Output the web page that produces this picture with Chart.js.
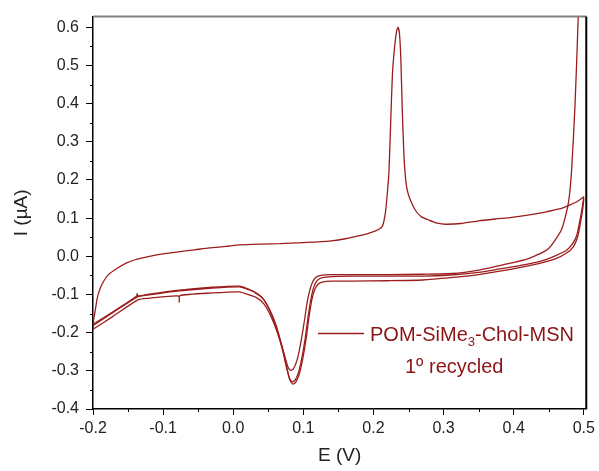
<!DOCTYPE html>
<html>
<head>
<meta charset="utf-8">
<script src="https://cdn.jsdelivr.net/npm/chart.js@4.4.1/dist/chart.umd.min.js"></script>
<style>
  body { margin: 0; background: #fff; }
  #wrap { width: 599px; height: 471px; }
</style>
</head>
<body>
<div id="wrap"><canvas id="cv" width="599" height="471"></canvas></div>
<script>
// axis ticks
const xTicks = [-0.2, -0.1, 0.0, 0.1, 0.2, 0.3, 0.4, 0.5]
const yTicks = [-0.4, -0.3, -0.2, -0.1, 0.0, 0.1, 0.2, 0.3, 0.4, 0.5, 0.6]

// anodic sweep (upper branch), E in V, I in uA
const upE = [-0.200, -0.199, -0.197, -0.194, -0.190, -0.185, -0.178, -0.166, -0.152, -0.140, -0.129, -0.105, -0.081, -0.055, -0.034, -0.010, 0.009, 0.040, 0.066, 0.100, 0.137, 0.160, 0.180, 0.196, 0.208, 0.213, 0.217, 0.2195, 0.222, 0.2245, 0.227, 0.230, 0.233, 0.235, 0.237, 0.239, 0.241, 0.2435, 0.246, 0.248, 0.252, 0.260, 0.268, 0.279, 0.291, 0.303, 0.325, 0.350, 0.375, 0.397, 0.420, 0.445, 0.465, 0.478, 0.490, 0.500]
const upI = [-0.192, -0.165, -0.144, -0.110, -0.085, -0.066, -0.048, -0.032, -0.017, -0.009, -0.004, 0.005, 0.011, 0.017, 0.022, 0.026, 0.030, 0.032, 0.033, 0.036, 0.040, 0.046, 0.054, 0.062, 0.071, 0.080, 0.114, 0.160, 0.218, 0.347, 0.476, 0.545, 0.590, 0.600, 0.585, 0.519, 0.390, 0.261, 0.200, 0.175, 0.150, 0.120, 0.104, 0.095, 0.087, 0.084, 0.086, 0.093, 0.098, 0.102, 0.108, 0.116, 0.124, 0.133, 0.143, 0.156]

// cathodic sweeps, right to left
const c1E = [0.494, 0.492, 0.491, 0.4875, 0.4826, 0.478, 0.4684, 0.4495, 0.421, 0.383, 0.350, 0.312, 0.270, 0.220, 0.170, 0.140, 0.125, 0.118, 0.113, 0.109, 0.105, 0.101, 0.096, 0.091, 0.086, 0.082, 0.078, 0.074, 0.068, 0.061, 0.052, 0.042, 0.030, 0.018, 0.009, -0.030, -0.080, -0.120, -0.136, -0.137, -0.138, -0.172, -0.200]
const c1I = [0.700, 0.628, 0.572, 0.399, 0.226, 0.140, 0.071, 0.020, -0.006, -0.023, -0.036, -0.045, -0.047, -0.048, -0.048, -0.048, -0.050, -0.055, -0.068, -0.090, -0.125, -0.175, -0.230, -0.272, -0.294, -0.299, -0.290, -0.265, -0.225, -0.180, -0.140, -0.110, -0.093, -0.083, -0.078, -0.081, -0.089, -0.099, -0.104, -0.098, -0.105, -0.146, -0.178]

const c2E = [0.500, 0.497, 0.494, 0.490, 0.484, 0.475, 0.460, 0.440, 0.410, 0.380, 0.350, 0.310, 0.270, 0.220, 0.170, 0.140, 0.127, 0.120, 0.115, 0.111, 0.107, 0.103, 0.098, 0.093, 0.088, 0.084, 0.080, 0.076, 0.070, 0.062, 0.053, 0.043, 0.031, 0.018, 0.009, -0.030, -0.080, -0.120, -0.136, -0.172, -0.200]
const c2I = [0.156, 0.120, 0.090, 0.055, 0.033, 0.015, 0.002, -0.012, -0.024, -0.033, -0.042, -0.049, -0.052, -0.052, -0.052, -0.053, -0.056, -0.063, -0.080, -0.110, -0.155, -0.210, -0.265, -0.305, -0.325, -0.329, -0.318, -0.290, -0.240, -0.190, -0.145, -0.112, -0.095, -0.085, -0.080, -0.083, -0.091, -0.101, -0.106, -0.148, -0.182]

const c3E = [0.500, 0.498, 0.495, 0.491, 0.485, 0.475, 0.460, 0.440, 0.410, 0.380, 0.350, 0.310, 0.270, 0.220, 0.170, 0.140, 0.128, 0.121, 0.116, 0.112, 0.108, 0.104, 0.099, 0.094, 0.089, 0.085, 0.081, 0.077, 0.071, 0.063, 0.054, 0.044, 0.032, 0.018, 0.009, -0.030, -0.076, -0.077, -0.078, -0.120, -0.136, -0.172, -0.200]
const c3I = [0.150, 0.118, 0.085, 0.050, 0.025, 0.008, -0.006, -0.017, -0.029, -0.039, -0.048, -0.056, -0.062, -0.064, -0.065, -0.065, -0.067, -0.073, -0.088, -0.115, -0.160, -0.215, -0.270, -0.310, -0.330, -0.335, -0.325, -0.298, -0.250, -0.200, -0.158, -0.125, -0.107, -0.098, -0.093, -0.096, -0.103, -0.120, -0.104, -0.110, -0.114, -0.158, -0.191]

const lineColor = '#9b1c1c'
const textColor = '#8b1515'
const fontName = "'Liberation Sans', Arial, sans-serif"

function toPoints(es, is) {
    return es.map((e, i) => ({ x: e, y: is[i] }))
}

function sweep(es, is) {
    return {
        data: toPoints(es, is),
        showLine: true,
        borderColor: lineColor,
        borderWidth: 1.3,
        pointRadius: 0,
        tension: 0.2
    }
}

// top/right frame, minor ticks and the legend block
const framePlugin = {
    id: 'frame',
    afterDraw(chart) {
        const ctx = chart.ctx
        const a = chart.chartArea
        const xs = chart.scales.x
        const ys = chart.scales.y
        ctx.save()
        ctx.strokeStyle = '#808080'
        ctx.lineWidth = 2
        ctx.beginPath()
        ctx.moveTo(a.left, a.top)
        ctx.lineTo(a.right, a.top)
        ctx.stroke()
        ctx.strokeStyle = '#000'
        ctx.beginPath()
        ctx.moveTo(a.right, a.top)
        ctx.lineTo(a.right, a.bottom)
        ctx.stroke()

        ctx.lineWidth = 1
        ctx.beginPath()
        for (let i = 0; i < xTicks.length - 1; i++) {
            const px = Math.round(xs.getPixelForValue((xTicks[i] + xTicks[i + 1]) / 2)) + 0.5
            ctx.moveTo(px, a.bottom)
            ctx.lineTo(px, a.bottom + 3)
        }
        for (let i = 0; i < yTicks.length; i++) {
            const v = yTicks[i] + 0.05
            if (v > ys.max) continue
            const py = Math.round(ys.getPixelForValue(v)) + 0.5
            ctx.moveTo(a.left, py)
            ctx.lineTo(a.left - 3, py)
        }
        ctx.stroke()

        // legend
        ctx.strokeStyle = lineColor
        ctx.lineWidth = 1.3
        ctx.beginPath()
        ctx.moveTo(318, 333.5)
        ctx.lineTo(364, 333.5)
        ctx.stroke()
        ctx.fillStyle = textColor
        ctx.textBaseline = 'alphabetic'
        ctx.textAlign = 'left'
        let x = 370
        ctx.font = '20px ' + fontName
        ctx.fillText('POM-SiMe', x, 340.5)
        x += ctx.measureText('POM-SiMe').width
        ctx.font = '13px ' + fontName
        ctx.fillText('3', x, 346)
        x += ctx.measureText('3').width
        ctx.font = '20px ' + fontName
        ctx.fillText('-Chol-MSN', x, 340.5)
        ctx.fillText('1º recycled', 405, 372.5)
        ctx.restore()
    }
}

new Chart(document.getElementById('cv'), {
    type: 'scatter',
    data: {
        datasets: [
            sweep(upE, upI),
            sweep(c1E, c1I),
            sweep(c2E, c2I),
            sweep(c3E, c3I)
        ]
    },
    options: {
        responsive: false,
        animation: false,
        devicePixelRatio: 1,
        layout: { padding: { left: 0, top: 11, right: 11, bottom: 0 } },
        plugins: {
            legend: { display: false },
            tooltip: { enabled: false }
        },
        scales: {
            x: {
                type: 'linear',
                min: -0.2,
                max: 0.5035,
                afterBuildTicks: s => { s.ticks = xTicks.map(v => ({ value: v })) },
                afterFit: s => { s.height = 62 },
                ticks: {
                    callback: v => v.toFixed(1),
                    font: { family: fontName, size: 16 },
                    color: '#222',
                    padding: 4,
                    maxRotation: 0
                },
                grid: { drawOnChartArea: false, tickLength: 6, color: '#000', lineWidth: 1 },
                border: { color: '#000', width: 1.5 },
                title: {
                    display: true,
                    text: 'E (V)',
                    font: { family: fontName, size: 19 },
                    color: '#222',
                    padding: { top: 0, bottom: 4 }
                }
            },
            y: {
                type: 'linear',
                min: -0.4,
                max: 0.628,
                afterBuildTicks: s => { s.ticks = yTicks.map(v => ({ value: v })) },
                afterFit: s => { s.width = 93 },
                ticks: {
                    callback: v => v.toFixed(1),
                    font: { family: fontName, size: 16 },
                    color: '#222',
                    padding: 7
                },
                grid: { drawOnChartArea: false, tickLength: 7, color: '#000', lineWidth: 1 },
                border: { color: '#000', width: 1.5 },
                title: {
                    display: true,
                    text: 'I (µA)',
                    font: { family: fontName, size: 19 },
                    color: '#222',
                    padding: { top: 10, bottom: 0 }
                }
            }
        }
    },
    plugins: [framePlugin]
})
</script>
</body>
</html>
